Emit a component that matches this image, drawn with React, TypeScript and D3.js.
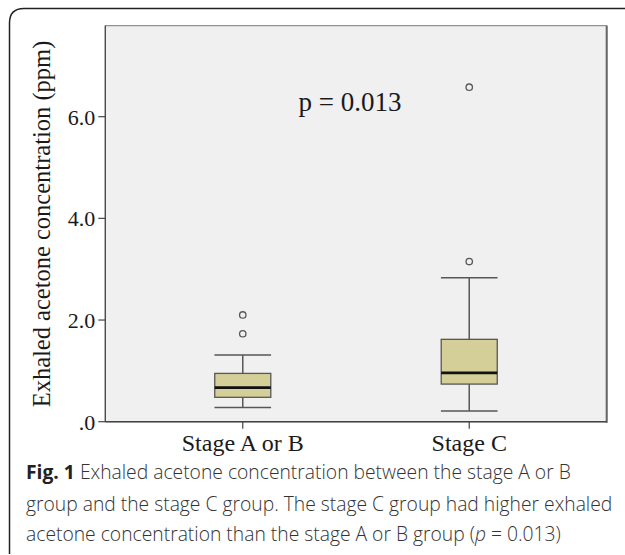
import React from "react";
import * as d3 from "d3";

const groups = ["Stage A or B", "Stage C"];
const lowWhisker = [0.28, 0.21];
const q1 = [0.48, 0.74];
const medians = [0.67, 0.96];
const q3 = [0.95, 1.62];
const highWhisker = [1.31, 2.83];
const outliers = [[1.73, 2.1], [3.15, 6.58]];
const yTicks = [0, 2, 4, 6];
const yTickLabels = [".0", "2.0", "4.0", "6.0"];

const W = 625;
const H = 555;
const plot = { left: 105.3, right: 606.7, top: 25.7, bottom: 421.7 };

const serif = "'Liberation Serif', 'DejaVu Serif', serif";
const sans = "'Open Sans', 'Noto Sans', sans-serif";

const App = () => {
  const x = d3.scalePoint<string>()
    .domain(groups)
    .range([plot.left, plot.right])
    .padding(0.607);
  const y = d3.scaleLinear().domain([0, 7.79]).range([plot.bottom, plot.top]);

  const step = x.step();
  const boxW = step * 0.2475;
  const capW = step * 0.125;
  const line = "#575757";

  return (
    <svg width={W} height={H} style={{ position: "absolute", left: 0, top: 0 }}>
      <rect width={W} height={H} fill="#fff" />
      {/* outer frame */}
      <path
        d={`M ${W + 5} 8.5 L 24 8.5 Q 9.5 8.5 9.5 23 L 9.5 ${H - 1} `}
        fill="none"
        stroke="#222"
        strokeWidth={1.5}
      />

      {/* plot area */}
      <rect
        x={plot.left}
        y={plot.top}
        width={plot.right - plot.left}
        height={plot.bottom - plot.top}
        fill="#f0f0f0"
        stroke="#777"
        strokeWidth={1}
      />
      <line x1={plot.right} x2={plot.right} y1={plot.top} y2={plot.bottom + 1} stroke="#666" strokeWidth={2} />
      <line x1={plot.left} x2={plot.left} y1={plot.top} y2={plot.bottom} stroke="#444" strokeWidth={1.2} />
      <line x1={plot.left} x2={plot.right} y1={plot.bottom} y2={plot.bottom} stroke="#444" strokeWidth={1.4} />

      {/* y axis */}
      {yTicks.map((t, i) => (
        <g key={t}>
          <line x1={plot.left - 7} x2={plot.left} y1={y(t)} y2={y(t)} stroke="#444" strokeWidth={1.2} />
          <text
            x={plot.left - 10}
            y={y(t)}
            dy="0.36em"
            textAnchor="end"
            fontFamily={serif}
            fontSize={22}
            fill="#1a1a1a"
          >
            {yTickLabels[i]}
          </text>
        </g>
      ))}
      <text
        transform={`translate(50, ${224}) rotate(-90)`}
        textAnchor="middle"
        fontFamily={serif}
        fontSize={24.5}
        fill="#1a1a1a"
      >
        Exhaled acetone concentration (ppm)
      </text>

      {/* x axis */}
      {groups.map((g) => (
        <g key={g}>
          <line x1={x(g)} x2={x(g)} y1={plot.bottom} y2={plot.bottom + 7} stroke="#444" strokeWidth={1.2} />
          <text
            x={x(g)}
            y={plot.bottom + 29}
            textAnchor="middle"
            fontFamily={serif}
            fontSize={24}
            fill="#1a1a1a"
          >
            {g}
          </text>
        </g>
      ))}

      {/* boxes */}
      {groups.map((g, i) => {
        const cx = x(g) as number;
        return (
          <g key={g}>
            <line x1={cx} x2={cx} y1={y(highWhisker[i])} y2={y(q3[i])} stroke={line} strokeWidth={1.5} />
            <line x1={cx} x2={cx} y1={y(q1[i])} y2={y(lowWhisker[i])} stroke={line} strokeWidth={1.5} />
            <line x1={cx - capW} x2={cx + capW} y1={y(highWhisker[i])} y2={y(highWhisker[i])} stroke={line} strokeWidth={1.5} />
            <line x1={cx - capW} x2={cx + capW} y1={y(lowWhisker[i])} y2={y(lowWhisker[i])} stroke={line} strokeWidth={1.5} />
            <rect
              x={cx - boxW / 2}
              y={y(q3[i])}
              width={boxW}
              height={y(q1[i]) - y(q3[i])}
              fill="#d4cf98"
              stroke={line}
              strokeWidth={1.3}
            />
            <line x1={cx - boxW / 2} x2={cx + boxW / 2} y1={y(medians[i])} y2={y(medians[i])} stroke="#111" strokeWidth={2.6} />
            {outliers[i].map((o) => (
              <circle key={o} cx={cx} cy={y(o)} r={3.2} fill="none" stroke={line} strokeWidth={1.3} />
            ))}
          </g>
        );
      })}

      <text x={350} y={101} dy="0.36em" textAnchor="middle" fontFamily={serif} fontSize={27} fill="#1a1a1a">
        p = 0.013
      </text>

      {/* caption */}
      <g fontFamily={sans} fontSize={19.3} fill="#333" fontWeight={300}>
        <text x={26} y={479}>
          <tspan fontWeight={700} fill="#222">Fig. 1</tspan> Exhaled acetone concentration between the stage A or B
        </text>
        <text x={26} y={511}>group and the stage C group. The stage C group had higher exhaled</text>
        <text x={26} y={541}>
          acetone concentration than the stage A or B group (<tspan fontStyle="italic">p</tspan> = 0.013)
        </text>
      </g>
    </svg>
  );
};

export default App;
